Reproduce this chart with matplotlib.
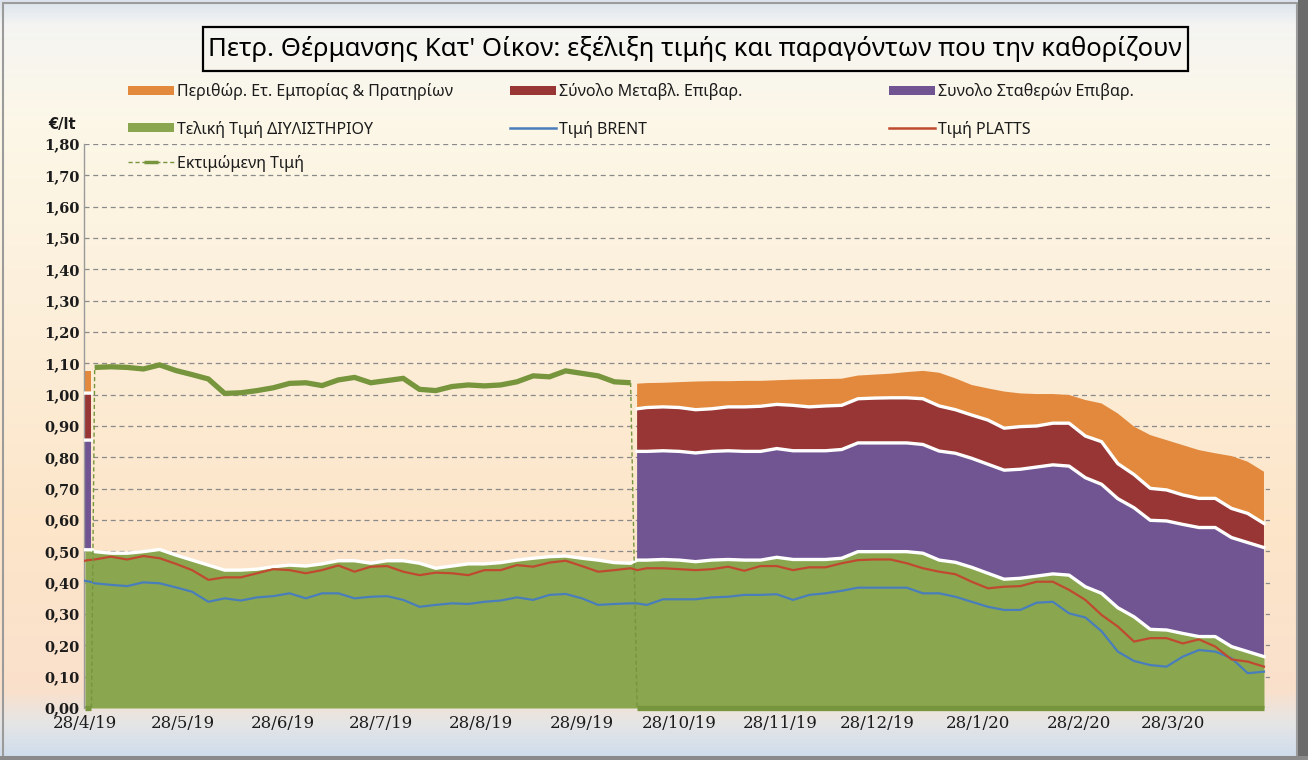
import numpy as np
import pandas as pd
import matplotlib
matplotlib.use('Agg')
import matplotlib.pyplot as plt
from matplotlib.lines import Line2D
from matplotlib.patches import Patch, Rectangle
from matplotlib.font_manager import FontProperties

# ---------------- texts ----------------
title = "Πετρ. Θέρμανσης Κατ' Οίκον: εξέλιξη τιμής και παραγόντων που την καθορίζουν"
unit_label = "€/lt"
lbl_margin = "Περιθώρ. Ετ. Εμπορίας & Πρατηρίων"
lbl_variable = "Σύνολο Μεταβλ. Επιβαρ."
lbl_fixed = "Συνολο Σταθερών Επιβαρ."
lbl_refinery = "Τελική Τιμή ΔΙΥΛΙΣΤΗΡΙΟΥ"
lbl_brent = "Τιμή BRENT"
lbl_platts = "Τιμή PLATTS"
lbl_estimate = "Εκτιμώμενη Τιμή"

# ---------------- data (€/lt) ----------------
# period 1: published breakdown at the start
p1_dates = pd.to_datetime(['2019-04-28', '2019-04-29', '2019-04-30'])
p1_refinery = [0.505, 0.505, 0.505]
p1_fixed = [0.350, 0.350, 0.350]
p1_variable = [0.150, 0.150, 0.150]
p1_margin = [0.072, 0.072, 0.072]
p1_brent = [0.406, 0.404, 0.402]
p1_platts = [0.470, 0.472, 0.473]
p1_estimate = [0.0, 0.0, 0.0]

# period 2: estimated retail price only
p2_dates = pd.date_range('2019-05-01', '2019-10-13', freq='5D')
p2_estimate = [1.087, 1.089, 1.087, 1.082, 1.095, 1.077, 1.064, 1.050, 1.004, 1.006,
               1.013, 1.022, 1.036, 1.038, 1.029, 1.047, 1.055, 1.038, 1.045, 1.052,
               1.017, 1.013, 1.026, 1.031, 1.028, 1.031, 1.041, 1.060, 1.057, 1.076,
               1.068, 1.060, 1.041, 1.038]
p2_refinery = [0.499, 0.494, 0.494, 0.499, 0.506, 0.488, 0.472, 0.456, 0.440, 0.440,
               0.443, 0.451, 0.456, 0.453, 0.460, 0.470, 0.470, 0.462, 0.470, 0.470,
               0.462, 0.446, 0.453, 0.460, 0.460, 0.464, 0.472, 0.478, 0.483, 0.485,
               0.478, 0.472, 0.464, 0.462]
p2_platts = [0.474, 0.483, 0.474, 0.485, 0.478, 0.460, 0.440, 0.409, 0.417, 0.417,
             0.430, 0.443, 0.440, 0.430, 0.440, 0.455, 0.435, 0.451, 0.453, 0.435,
             0.424, 0.432, 0.430, 0.424, 0.440, 0.440, 0.456, 0.451, 0.464, 0.470,
             0.453, 0.435, 0.440, 0.446]
p2_brent = [0.398, 0.393, 0.389, 0.401, 0.398, 0.385, 0.371, 0.339, 0.350, 0.343,
            0.353, 0.357, 0.366, 0.350, 0.366, 0.366, 0.350, 0.355, 0.357, 0.345,
            0.323, 0.329, 0.334, 0.332, 0.339, 0.343, 0.353, 0.345, 0.361, 0.364,
            0.350, 0.329, 0.332, 0.334]

# period 3: full price breakdown
p3_dates = pd.DatetimeIndex(['2019-10-15']).append(
    pd.date_range('2019-10-18', '2020-04-25', freq='5D'))
p3_refinery = [0.472, 0.472, 0.474, 0.472, 0.467, 0.472, 0.474, 0.472, 0.472, 0.481,
               0.474, 0.474, 0.474, 0.478, 0.499, 0.499, 0.499, 0.499, 0.494, 0.472,
               0.465, 0.449, 0.430, 0.411, 0.414, 0.421, 0.428, 0.424, 0.387, 0.366,
               0.320, 0.291, 0.251, 0.249, 0.238, 0.228, 0.228, 0.196, 0.180, 0.164]
p3_fixed = [0.347, 0.347, 0.347, 0.347, 0.347, 0.347, 0.347, 0.347, 0.347, 0.347,
            0.347, 0.347, 0.347, 0.347, 0.347, 0.347, 0.347, 0.347, 0.347, 0.348,
            0.348, 0.348, 0.348, 0.348, 0.348, 0.348, 0.348, 0.348, 0.348, 0.348,
            0.348, 0.348, 0.348, 0.348, 0.348, 0.348, 0.348, 0.348, 0.348, 0.348]
p3_variable = [0.136, 0.140, 0.140, 0.140, 0.138, 0.136, 0.140, 0.142, 0.144, 0.141,
               0.145, 0.140, 0.143, 0.141, 0.141, 0.143, 0.144, 0.144, 0.146, 0.144,
               0.139, 0.138, 0.141, 0.134, 0.136, 0.131, 0.133, 0.137, 0.133, 0.136,
               0.112, 0.106, 0.102, 0.099, 0.094, 0.093, 0.093, 0.093, 0.093, 0.077]
p3_margin = [0.080, 0.078, 0.077, 0.081, 0.090, 0.088, 0.082, 0.083, 0.081, 0.077,
             0.082, 0.088, 0.086, 0.085, 0.074, 0.075, 0.077, 0.082, 0.089, 0.106,
             0.100, 0.096, 0.101, 0.117, 0.106, 0.102, 0.093, 0.090, 0.115, 0.122,
             0.160, 0.153, 0.170, 0.159, 0.159, 0.154, 0.144, 0.167, 0.165, 0.165]
p3_brent = [0.334, 0.329, 0.347, 0.347, 0.347, 0.353, 0.355, 0.361, 0.361, 0.363,
            0.345, 0.361, 0.366, 0.374, 0.384, 0.384, 0.384, 0.384, 0.366, 0.366,
            0.355, 0.339, 0.323, 0.313, 0.313, 0.336, 0.339, 0.302, 0.289, 0.245,
            0.180, 0.150, 0.137, 0.132, 0.164, 0.185, 0.180, 0.159, 0.111, 0.116]
p3_platts = [0.440, 0.446, 0.446, 0.443, 0.440, 0.443, 0.451, 0.438, 0.453, 0.453,
             0.440, 0.449, 0.449, 0.462, 0.472, 0.474, 0.474, 0.462, 0.446, 0.435,
             0.427, 0.403, 0.382, 0.387, 0.389, 0.403, 0.403, 0.377, 0.345, 0.297,
             0.260, 0.212, 0.223, 0.223, 0.206, 0.219, 0.196, 0.155, 0.148, 0.132]
p3_estimate = [0.0] * len(p3_dates)

y_ticks = [0.0, 0.1, 0.2, 0.3, 0.4, 0.5, 0.6, 0.7, 0.8, 0.9,
           1.0, 1.1, 1.2, 1.3, 1.4, 1.5, 1.6, 1.7, 1.8]
x_tick_dates = pd.date_range('2019-04-28', '2020-03-28', freq=pd.DateOffset(months=1))

# ---------------- colours ----------------
c_margin = '#e2893d'
c_variable = '#973634'
c_fixed = '#705592'
c_refinery = '#8aa64f'
c_brent = '#4a7ebb'
c_platts = '#bf4a30'
c_estimate = '#76953c'

# ---------------- assemble ----------------
gap = [np.nan] * len(p2_dates)
dates = p1_dates.append(p2_dates).append(p3_dates)
refinery = np.array(p1_refinery + p2_refinery + p3_refinery)
fixed = np.array(p1_fixed + gap + p3_fixed)
variable = np.array(p1_variable + gap + p3_variable)
margin = np.array(p1_margin + gap + p3_margin)
brent = np.array(p1_brent + p2_brent + p3_brent)
platts = np.array(p1_platts + p2_platts + p3_platts)
estimate = np.array(p1_estimate + p2_estimate + p3_estimate)

lvl1 = refinery
lvl2 = lvl1 + fixed
lvl3 = lvl2 + variable
lvl4 = lvl3 + margin

W, H = 1308, 760
fig = plt.figure(figsize=(W / 100, H / 100), dpi=100)


def fx(px):
    return px / W


def fy(py):
    return 1 - py / H


# background gradient
bg = fig.add_axes([0, 0, 1, 1], zorder=-10)
stop_rows = [0, 25, 120, 300, 520, 690, 722, 760]
stop_cols = [(0.86, 0.89, 0.93), (0.96, 0.96, 0.95), (0.99, 0.97, 0.91),
             (0.99, 0.94, 0.86), (0.99, 0.90, 0.79), (0.98, 0.88, 0.80),
             (0.90, 0.90, 0.90), (0.80, 0.86, 0.93)]
rows = np.arange(H)
grad = np.zeros((H, 2, 3))
for k in range(3):
    grad[:, :, k] = np.interp(rows, stop_rows, [c[k] for c in stop_cols])[:, None]
bg.imshow(grad, aspect='auto', extent=[0, 1, 0, 1], origin='upper')
bg.set_xlim(0, 1)
bg.set_ylim(0, 1)
bg.axis('off')

# frame
fig.patches.append(Rectangle((fx(3), fy(757)), fx(1297) - fx(3), fy(3) - fy(757),
                             transform=fig.transFigure, fill=False,
                             ec='#9b9b9b', lw=1.5, zorder=-5))
fig.patches.append(Rectangle((fx(1298), fy(760)), fx(10), 1, transform=fig.transFigure,
                             fc='#6b6b6b', ec='none', zorder=-5))
fig.patches.append(Rectangle((0, 0), 1, fy(756), transform=fig.transFigure,
                             fc='#8a8a8a', ec='none', zorder=-5))

# main axes
ax = fig.add_axes([fx(84), fy(708), fx(1270) - fx(84), (708 - 144) / H])
ax.patch.set_alpha(0)
x0 = pd.Timestamp('2019-04-27 17:00')
x1 = x0 + pd.Timedelta(days=(1270 - 84) / 3.248)
ax.set_xlim(x0, x1)
ax.set_ylim(0, 1.8)

ax.set_yticks(y_ticks)
ax.set_yticklabels([f"{v:.2f}".replace('.', ',') for v in y_ticks])
ax.set_xticks(x_tick_dates)
ax.set_xticklabels([f"{d.day}/{d.month}/{d.year % 100}" for d in x_tick_dates])
ax.tick_params(axis='both', length=0)
ax.tick_params(axis='y', pad=3)
ax.tick_params(axis='x', pad=5)
for t in ax.get_yticklabels():
    t.set_fontfamily('DejaVu Serif')
    t.set_fontweight('bold')
    t.set_fontsize(10.5)
    t.set_color('#1c1c1c')
for t in ax.get_xticklabels():
    t.set_fontfamily('DejaVu Serif')
    t.set_fontsize(12)
    t.set_color('#1c1c1c')

for v in y_ticks:
    ax.axhline(v, color='#8a8a8a' if v > 0 else '#bdbdbd', lw=0.9,
               ls=(0, (4, 3)), zorder=0.5)
for s in ['top', 'right', 'bottom']:
    ax.spines[s].set_visible(False)
ax.spines['left'].set_color('#9a9a9a')
ax.spines['left'].set_linewidth(1.0)

# stacked areas
ax.fill_between(dates, 0, lvl1, color=c_refinery, lw=0, zorder=2)
ax.fill_between(dates, lvl1, lvl2, color=c_fixed, lw=0, zorder=2)
ax.fill_between(dates, lvl2, lvl3, color=c_variable, lw=0, zorder=2)
ax.fill_between(dates, lvl3, lvl4, color=c_margin, lw=0, zorder=2)
for lv in (lvl1, lvl2, lvl3):
    ax.plot(dates, lv, color='white', lw=2.4, zorder=3, solid_joinstyle='round')

ax.plot(dates, brent, color=c_brent, lw=1.6, zorder=4)
ax.plot(dates, platts, color=c_platts, lw=1.6, zorder=4)

# estimated price: thin dashed connector + thick solid trace
ax.plot(dates, estimate, color=c_estimate, ls=(0, (3, 2)), lw=1.0, zorder=5)
est_high = np.where(estimate > 0, estimate, np.nan)
est_zero = np.where(estimate > 0, np.nan, estimate)
ax.plot(dates, est_high, color=c_estimate, lw=3.8, zorder=5,
        solid_capstyle='butt', solid_joinstyle='miter')
ax.plot(dates, est_zero, color=c_estimate, lw=3.8, zorder=5, clip_on=False,
        solid_capstyle='butt')

# title
fig.patches.append(Rectangle((fx(203), fy(71)), fx(1188) - fx(203), fy(27) - fy(71),
                             transform=fig.transFigure, fill=False, ec='black',
                             lw=1.6, zorder=5))
tt = fig.text(fx(695), fy(49), title, ha='center', va='center',
              family=['Noto Sans', 'DejaVu Sans'], fontsize=17, color='black')
fig.canvas.draw()
r = fig.canvas.get_renderer()
w = tt.get_window_extent(r).width
tt.set_fontsize(17 * 972 / w)

# unit label
fig.text(fx(62), fy(125), unit_label, ha='center', va='center', fontweight='bold',
         family=['DejaVu Sans'], fontsize=10.5, color='#1c1c1c')

# legend entries (placed individually)
leg_family = ['Liberation Sans Narrow', 'Noto Sans', 'DejaVu Sans']
probe = fig.text(0, 0, lbl_margin, family=leg_family, fontsize=12)
fig.canvas.draw()
pw = probe.get_window_extent(r).width
probe.remove()
leg_fs = 12 * 276 / pw
fs_px = leg_fs * 100 / 72


def add_entry(handle, label, x_px, y_px, bold=False):
    prop = FontProperties(family=leg_family, size=leg_fs,
                          weight='bold' if bold else 'normal')
    lg = fig.legend([handle], [label], loc='center left',
                    bbox_to_anchor=(fx(x_px), fy(y_px)), frameon=False,
                    borderpad=0, borderaxespad=0, handlelength=46 / fs_px,
                    handleheight=0.5, handletextpad=3 / fs_px, prop=prop,
                    labelcolor='#1c1c1c')
    return lg


add_entry(Patch(fc=c_margin, ec='none'), lbl_margin, 128, 92)
add_entry(Patch(fc=c_refinery, ec='none'), lbl_refinery, 128, 129)
add_entry(Line2D([], [], color=c_estimate, ls=(0, (3, 2)), lw=1.0, marker='_',
                 ms=10, mew=2.5), lbl_estimate, 128, 163, bold=True)
add_entry(Patch(fc=c_variable, ec='none'), lbl_variable, 510, 92)
add_entry(Line2D([], [], color=c_brent, lw=1.8), lbl_brent, 510, 129)
add_entry(Patch(fc=c_fixed, ec='none'), lbl_fixed, 889, 92)
add_entry(Line2D([], [], color=c_platts, lw=1.8), lbl_platts, 889, 129)

fig.savefig('out.png', dpi=100)
